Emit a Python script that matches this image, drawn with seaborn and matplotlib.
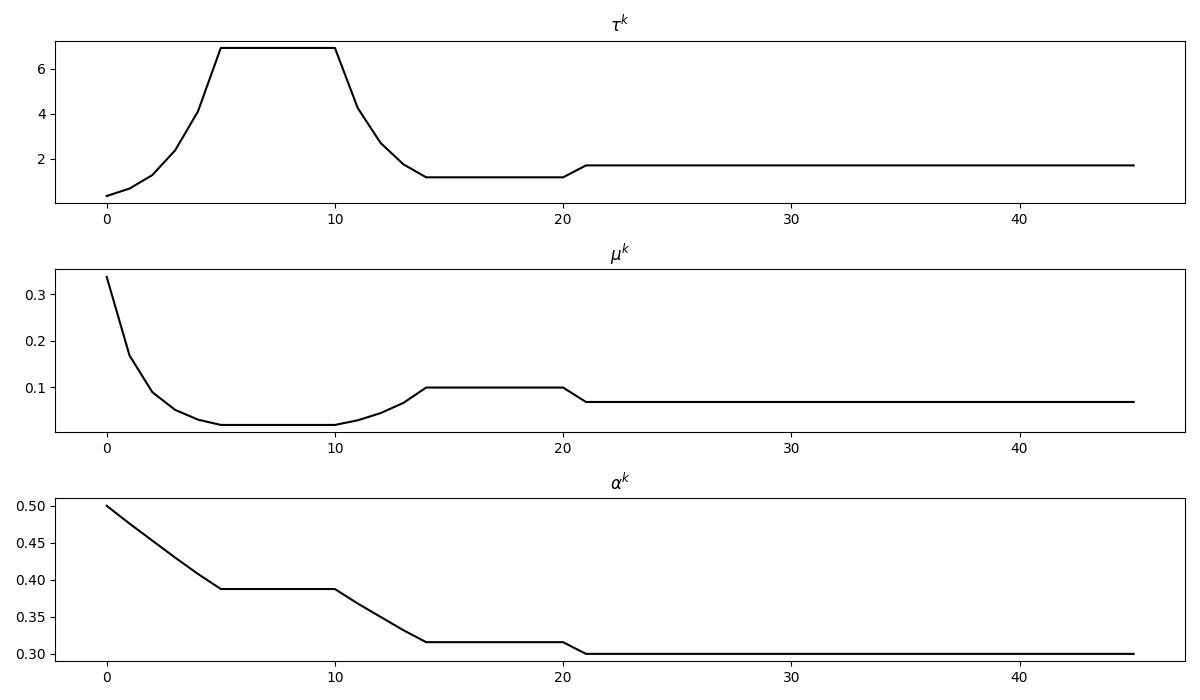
import numpy as np
import pandas as pd
import matplotlib
matplotlib.use("Agg")
import matplotlib.pyplot as plt
import seaborn as sns

# iteration index
k = list(range(46))

tau = ([0.34, 0.67, 1.27, 2.37, 4.1] + [6.92] * 6 + [4.25, 2.7, 1.75]
       + [1.17] * 7 + [1.70] * 25)
mu = ([0.337, 0.168, 0.089, 0.051, 0.030] + [0.0186] * 6 + [0.0286, 0.044, 0.066]
      + [0.099] * 7 + [0.068] * 25)
alpha = ([0.500, 0.476, 0.453, 0.430, 0.408] + [0.3876] * 6 + [0.368, 0.350, 0.332]
         + [0.3158] * 7 + [0.300] * 25)

df = pd.DataFrame({'k': k, 'tau': tau, 'mu': mu, 'alpha': alpha})

fig, axes = plt.subplots(3, 1, figsize=(12, 7))

for ax, col, title in zip(axes, ['tau', 'mu', 'alpha'], [r'$\tau^k$', r'$\mu^k$', r'$\alpha^k$']):
    sns.lineplot(data=df, x='k', y=col, ax=ax, color='black')
    ax.set_title(title)
    ax.set_xlabel('')
    ax.set_ylabel('')

plt.tight_layout()
plt.savefig('out.png', dpi=100)
